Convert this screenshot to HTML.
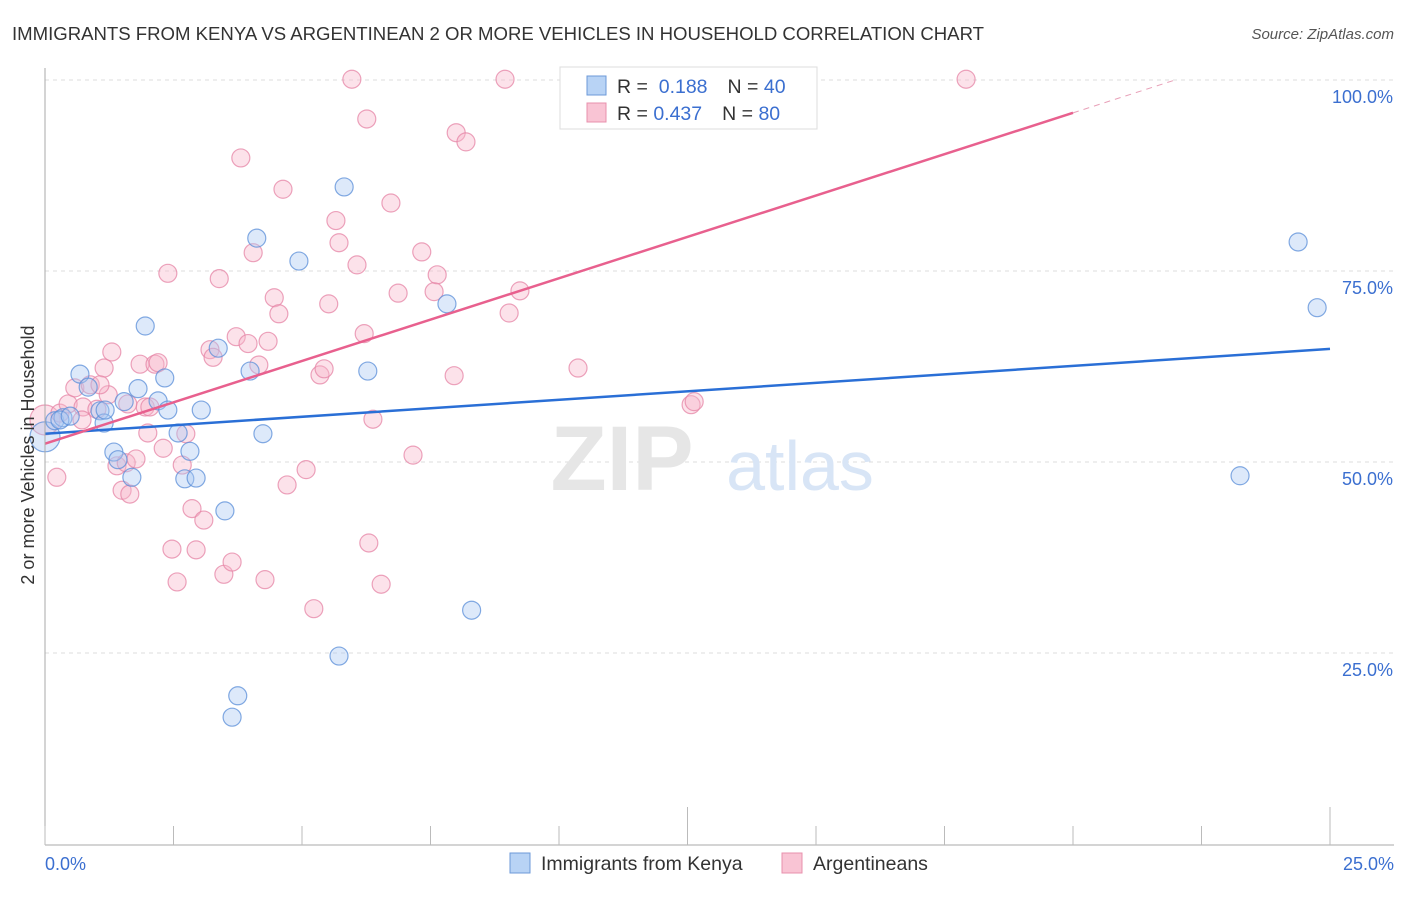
<!DOCTYPE html>
<html><head><meta charset="utf-8"><style>
body{margin:0;background:#fff;font-family:"Liberation Sans",sans-serif;}
svg text{font-family:"Liberation Sans",sans-serif;}
</style></head><body>
<svg id="chart" width="1406" height="892" xmlns="http://www.w3.org/2000/svg">
<text x="12" y="40" font-size="18.6" fill="#333" textLength="972">IMMIGRANTS FROM KENYA VS ARGENTINEAN 2 OR MORE VEHICLES IN HOUSEHOLD CORRELATION CHART</text>
<text x="1394" y="39" font-size="15" fill="#555" font-style="italic" text-anchor="end">Source: ZipAtlas.com</text>
<g id="grid"></g>
<g id="watermark">
<text x="622" y="490" font-size="92" fill="#e6e6e6" font-family="Liberation Serif" text-anchor="middle" font-weight="bold">ZIP</text>
<text x="800" y="490" font-size="70" fill="#d8e5f6" text-anchor="middle">atlas</text>
</g>
<g id="points"></g>
<g id="trends"></g>
<g id="axes"></g>
<text transform="translate(34,455) rotate(-90)" font-size="18" fill="#333" text-anchor="middle">2 or more Vehicles in Household</text>
<g>
<rect x="560" y="67" width="257" height="62" fill="#fff" stroke="#ddd"/>
<rect x="587" y="76" width="19" height="19" fill="#b8d3f5" stroke="#6c9ad8"/>
<rect x="587" y="103" width="19" height="19" fill="#f9c4d4" stroke="#e890ad"/>
<text x="617" y="93" font-size="19.5" fill="#333">R = <tspan fill="#3b6fd0">&#160;0.188</tspan><tspan dx="20">N = </tspan><tspan fill="#3b6fd0">40</tspan></text>
<text x="617" y="120" font-size="19.5" fill="#333">R = <tspan fill="#3b6fd0">0.437</tspan><tspan dx="20">N = </tspan><tspan fill="#3b6fd0">80</tspan></text>
</g>
<g>
<rect x="510" y="853" width="20" height="20" fill="#b8d3f5" stroke="#6c9ad8"/>
<text x="541" y="870" font-size="19.5" fill="#333">Immigrants from Kenya</text>
<rect x="782" y="853" width="20" height="20" fill="#f9c4d4" stroke="#e890ad"/>
<text x="813" y="870" font-size="19.5" fill="#333">Argentineans</text>
</g>
</svg>
<script>
const xTicks=[0,2.5,5,7.5,10,12.5,15,17.5,20,22.5,25];
const yTicks=[25,50,75,100];
const yTickLabels=["25.0%","50.0%","75.0%","100.0%"];
const xTickLabels=["0.0%","25.0%"];
const kenyaX=[0,0.19,0.35,0.68,0.84,1.07,1.15,1.34,1.42,1.54,1.69,1.81,1.95,2.20,2.33,2.39,2.59,2.72,2.82,2.94,3.04,3.37,3.50,3.64,3.75,3.99,4.12,4.24,4.94,5.72,5.82,6.28,7.82,8.30,23.25,24.38,24.75,0.29,0.49,1.17];
const kenyaY=[53.3,55.4,55.8,61.5,59.8,56.7,55.1,51.3,50.3,57.9,48.0,59.6,67.8,58.0,61.0,56.8,53.8,47.8,51.4,47.9,56.8,64.9,43.6,16.6,19.4,61.9,79.3,53.7,76.3,24.6,86.0,61.9,70.7,30.6,48.2,78.8,70.2,55.5,56.0,56.8];
const argX=[0,0.23,0.29,0.45,0.58,0.74,0.88,1.01,1.15,1.23,1.30,1.40,1.50,1.58,1.65,1.77,1.85,1.95,2.00,2.14,2.20,2.30,2.39,2.47,2.57,2.67,2.74,2.86,2.94,3.09,3.21,3.27,3.39,3.48,3.64,3.72,3.81,3.95,4.05,4.16,4.28,4.34,4.46,4.55,4.63,4.71,5.23,5.08,5.35,5.43,5.52,5.66,5.72,5.97,6.07,6.21,6.26,6.30,6.38,6.54,6.73,6.87,7.16,7.33,7.57,7.63,7.96,8.00,8.19,8.95,9.03,9.24,10.37,12.57,12.63,17.92,1.07,0.72,2.04,1.61];
const argY=[55.5,48.0,56.4,57.6,59.7,57.2,60.1,56.9,62.3,58.8,64.4,49.5,46.3,49.9,45.8,50.4,62.8,57.2,53.8,62.8,63.0,51.8,74.7,38.6,34.3,49.6,53.7,43.9,38.5,42.4,64.7,63.7,74.0,35.3,36.9,66.4,89.8,65.5,77.4,62.7,34.6,65.8,71.5,69.4,85.7,47.0,30.8,49.0,61.4,62.2,70.7,81.6,78.7,100.1,75.8,66.8,94.9,39.4,55.6,34.0,83.9,72.1,50.9,77.5,72.3,74.5,61.3,93.1,91.9,100.1,69.5,72.4,62.3,57.5,57.9,100.1,60.1,55.5,57.2,57.6];
const kenyaTrend=[[0,53.7],[25,64.8]];
const argTrend=[[0,52.4],[20,95.7]];
const NS="http://www.w3.org/2000/svg";
const sx=v=>45+v/25*1285;
const sy=v=>844-v/100*764;
function mk(tag,attrs,parent){const e=document.createElementNS(NS,tag);for(const k in attrs)e.setAttribute(k,attrs[k]);parent.appendChild(e);return e;}
const grid=document.getElementById('grid'),axes=document.getElementById('axes'),pts=document.getElementById('points'),tr=document.getElementById('trends');
yTicks.forEach((t,i)=>{
 const l=mk('line',{x1:45,x2:1394,y1:sy(t),y2:sy(t),stroke:'#ddd','stroke-dasharray':'4,4'},grid);
 
 
 const tx=mk('text',{x:1393,y:sy(t)+23,'font-size':18,fill:'#3b6fd0','text-anchor':'end'},axes);
 tx.textContent=yTickLabels[i];
 
 
});
const yax=mk('line',{x1:45,x2:45,y1:68,y2:845,stroke:'#aaa'},axes);


const xax=mk('line',{x1:45,x2:1394,y1:845,y2:845,stroke:'#aaa'},axes);


xTicks.forEach((t,i)=>{
 const major=(i===5||i===10);
 const l=mk('line',{x1:sx(t),x2:sx(t),y1:major?807:826,y2:845,stroke:'#bbb'},axes);
 
 
});
[[0,'start',45],[25,'end',1394]].forEach((d,i)=>{
 const tx=mk('text',{x:d[2],y:870,'font-size':18,fill:'#3b6fd0','text-anchor':d[1]},axes);
 tx.textContent=xTickLabels[i];
 
 
});
function drawPts(X,Y,fill,stroke,name){
 X.forEach((x,i)=>{
  const big=(x===0);
  const c=mk('circle',{cx:sx(x),cy:sy(Y[i]),r:big?15:9,fill:fill,'fill-opacity':0.4,stroke:stroke,'stroke-width':1.2,'stroke-opacity':0.75},pts);
  
  
 });
}
drawPts(argX,argY,'#f7b6ca','#e684a5','argentinean-point');
drawPts(kenyaX,kenyaY,'#a9c9f2','#5a8ed8','kenya-point');
const kl=mk('line',{x1:sx(kenyaTrend[0][0]),y1:sy(kenyaTrend[0][1]),x2:sx(kenyaTrend[1][0]),y2:sy(kenyaTrend[1][1]),stroke:'#2a6fd6','stroke-width':2.5},tr);


const al=mk('line',{x1:sx(argTrend[0][0]),y1:sy(argTrend[0][1]),x2:sx(argTrend[1][0]),y2:sy(argTrend[1][1]),stroke:'#e8608e','stroke-width':2.5},tr);


const slope=(argTrend[1][1]-argTrend[0][1])/(argTrend[1][0]-argTrend[0][0]);
const xEnd=(100-argTrend[0][1])/slope;
const ad=mk('line',{x1:sx(argTrend[1][0]),y1:sy(argTrend[1][1]),x2:sx(xEnd),y2:sy(100),stroke:'#e8a0b8','stroke-width':1,'stroke-dasharray':'6,5'},tr);


</script>
</body></html>
